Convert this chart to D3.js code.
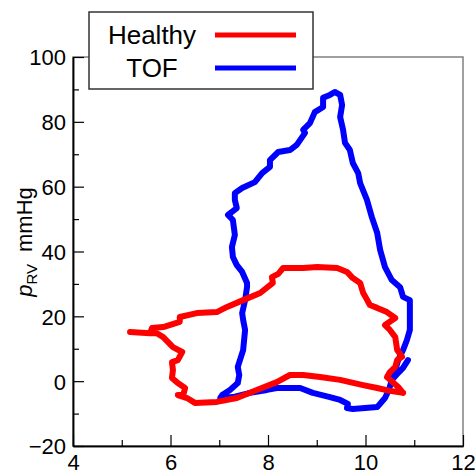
<!DOCTYPE html>
<html><head><meta charset="utf-8">
<script src="https://cdn.jsdelivr.net/npm/d3@7"></script>
<style>body{margin:0;background:#fff}svg{display:block}</style>
</head><body>
<svg id="c" width="475" height="471"></svg>
<script>
const seriesNames = ["Healthy", "TOF"];
const seriesColors = ["#ff0000", "#0000ff"];
const xTicks = [4, 6, 8, 10, 12];
const xMinorTicks = [5, 7, 9, 11];
const yTicks = [-20, 0, 20, 40, 60, 80, 100];
const yMinorTicks = [-10, 10, 30, 50, 70, 90];

const healthyX = [10.77,10.67,10.56,10.44,10.50,10.61,10.65,10.75,10.65,10.61,10.50,10.40,10.61,10.44,10.24,10.09,10.01,9.95,9.89,9.74,9.62,9.42,9.01,8.72,8.51,8.31,8.21,8.08,8.10,7.84,7.49,7.16,6.95,6.54,6.19,6.19,5.85,5.62,5.58,5.17,5.58,5.72,5.85,6.05,6.24,6.15,6.03,6.05,6.03,6.15,6.30,6.26,6.15,6.34,6.50,6.95,7.36,7.77,8.18,8.45,8.72,9.07,9.48,9.68,9.95,10.24,10.50,10.77];
const healthyY = [-3.6,-1.8,-0.3,1.3,2.8,4.4,6.5,7.5,9.6,13.6,15.8,17.3,19.5,21.3,22.6,23.5,25.7,27.3,30.3,31.8,33.7,34.9,35.2,34.9,34.9,34.9,33.1,32.1,30.3,27.2,25.0,22.9,21.3,21.0,19.8,18.3,16.7,16.4,14.8,15.2,14.8,14.8,13.6,10.5,9.0,6.5,5.9,3.4,1.0,-0.6,-2.1,-4.3,-4.3,-5.2,-6.7,-6.4,-5.2,-2.7,-0.3,1.9,1.9,1.3,0.4,-0.3,-1.2,-2.1,-3.0,-3.6];

const tofX = [10.87,10.77,10.65,10.54,10.48,10.40,10.24,9.99,9.74,9.62,9.64,9.48,9.27,8.92,8.66,8.39,8.18,7.98,7.63,7.28,7.02,7.06,7.22,7.38,7.41,7.38,7.49,7.53,7.49,7.47,7.53,7.57,7.57,7.47,7.36,7.28,7.26,7.32,7.28,7.18,7.36,7.32,7.32,7.47,7.73,7.88,8.04,8.04,8.21,8.45,8.59,8.76,8.72,8.86,8.96,9.13,9.13,9.27,9.37,9.48,9.52,9.48,9.54,9.58,9.68,9.74,9.85,9.89,10.03,10.13,10.24,10.30,10.40,10.54,10.71,10.77,10.91,10.91,10.91,10.91,10.85,10.77,10.67,10.61,10.52];
const tofY = [6.5,4.1,2.2,0.4,-2.7,-5.2,-8.0,-8.3,-8.6,-8.3,-7.0,-5.8,-4.9,-3.6,-2.1,-2.1,-2.1,-2.7,-3.6,-4.9,-5.2,-4.3,-2.7,-0.6,1.9,4.4,9.6,15.8,18.9,21.0,25.0,29.0,30.3,33.7,35.8,38.3,41.4,45.1,49.7,51.3,53.4,55.9,58.0,59.6,61.4,64.2,66.1,68.2,70.7,71.3,72.9,76.6,77.5,79.6,83.0,84.6,87.4,88.3,89.2,88.3,85.2,81.5,77.5,73.5,71.3,67.3,64.2,61.1,55.9,50.6,45.7,40.5,35.2,31.2,29.0,26.0,25.0,22.9,19.8,15.8,12.7,9.6,6.5,3.4,0.4];

const svg = d3.select("#c");
const L = 73, R = 463, T = 57, B = 446;
const x = d3.scaleLinear().domain([4, 12]).range([L, R]);
const y = d3.scaleLinear().domain([-20, 100]).range([B, T]);
const font = "'Liberation Sans', Arial, sans-serif";

// frame (top/right grey)
svg.append("rect").attr("x", L).attr("y", T).attr("width", R - L).attr("height", B - T)
  .attr("fill", "none").attr("stroke", "#808080").attr("stroke-width", 1.5);

// series
const line = d3.line().x(d => x(d[0])).y(d => y(d[1]));
const seriesData = [
  d3.zip(healthyX, healthyY),
  d3.zip(tofX, tofY)
];
[1, 0].forEach(i => {
  svg.append("path").datum(seriesData[i]).attr("d", line)
    .attr("fill", "none").attr("stroke", seriesColors[i]).attr("stroke-width", 6)
    .attr("stroke-linejoin", "round").attr("stroke-linecap", "round");
});

// axes
const gx = svg.append("g").attr("transform", `translate(0,${B})`)
  .call(d3.axisBottom(x).tickValues(xTicks).tickSizeInner(-11).tickSizeOuter(0).tickPadding(8).tickFormat(d3.format("d")));
const gxm = svg.append("g").attr("transform", `translate(0,${B})`)
  .call(d3.axisBottom(x).tickValues(xMinorTicks).tickSizeInner(-6).tickSizeOuter(0).tickFormat(""));
const gy = svg.append("g").attr("transform", `translate(${L},0)`)
  .call(d3.axisLeft(y).tickValues(yTicks).tickSizeInner(-11).tickSizeOuter(0).tickPadding(7).tickFormat(d3.format("d")));
const gym = svg.append("g").attr("transform", `translate(${L},0)`)
  .call(d3.axisLeft(y).tickValues(yMinorTicks).tickSizeInner(-6).tickSizeOuter(0).tickFormat(""));
[gx, gxm, gy, gym].forEach(g => {
  g.select(".domain").attr("stroke", "#000").attr("stroke-width", 1.5);
  g.selectAll(".tick line").attr("stroke", "#000").attr("stroke-width", 1.2);
  g.selectAll("text").attr("font-family", font).attr("font-size", 22).attr("fill", "#000");
});
gx.selectAll("text").attr("dy", "0.71em").attr("y", 8);
gy.selectAll("text").attr("dy", "0.36em");

// y label
const yl = svg.append("text").attr("transform", "translate(32,242) rotate(-90)")
  .attr("text-anchor", "middle").attr("font-family", font).attr("font-size", 22).attr("fill", "#000");
yl.append("tspan").attr("font-style", "italic").text("p");
yl.append("tspan").attr("font-size", 15).attr("dy", 5).text("RV");
yl.append("tspan").attr("dy", -5).attr("dx", 12).text("mmHg");

// legend
const lg = svg.append("g");
lg.append("rect").attr("x", 89).attr("y", 12).attr("width", 224).attr("height", 77)
  .attr("fill", "#fff").attr("stroke", "#333").attr("stroke-width", 1.5);
const legY = [35, 68];
seriesNames.forEach((n, i) => {
  lg.append("text").attr("x", 152).attr("y", legY[i] + 9).attr("text-anchor", "middle")
    .attr("font-family", font).attr("font-size", 26).attr("fill", "#000").text(n);
  lg.append("line").attr("x1", 215).attr("x2", 296).attr("y1", legY[i]).attr("y2", legY[i])
    .attr("stroke", seriesColors[i]).attr("stroke-width", 5);
});
</script>
</body></html>
